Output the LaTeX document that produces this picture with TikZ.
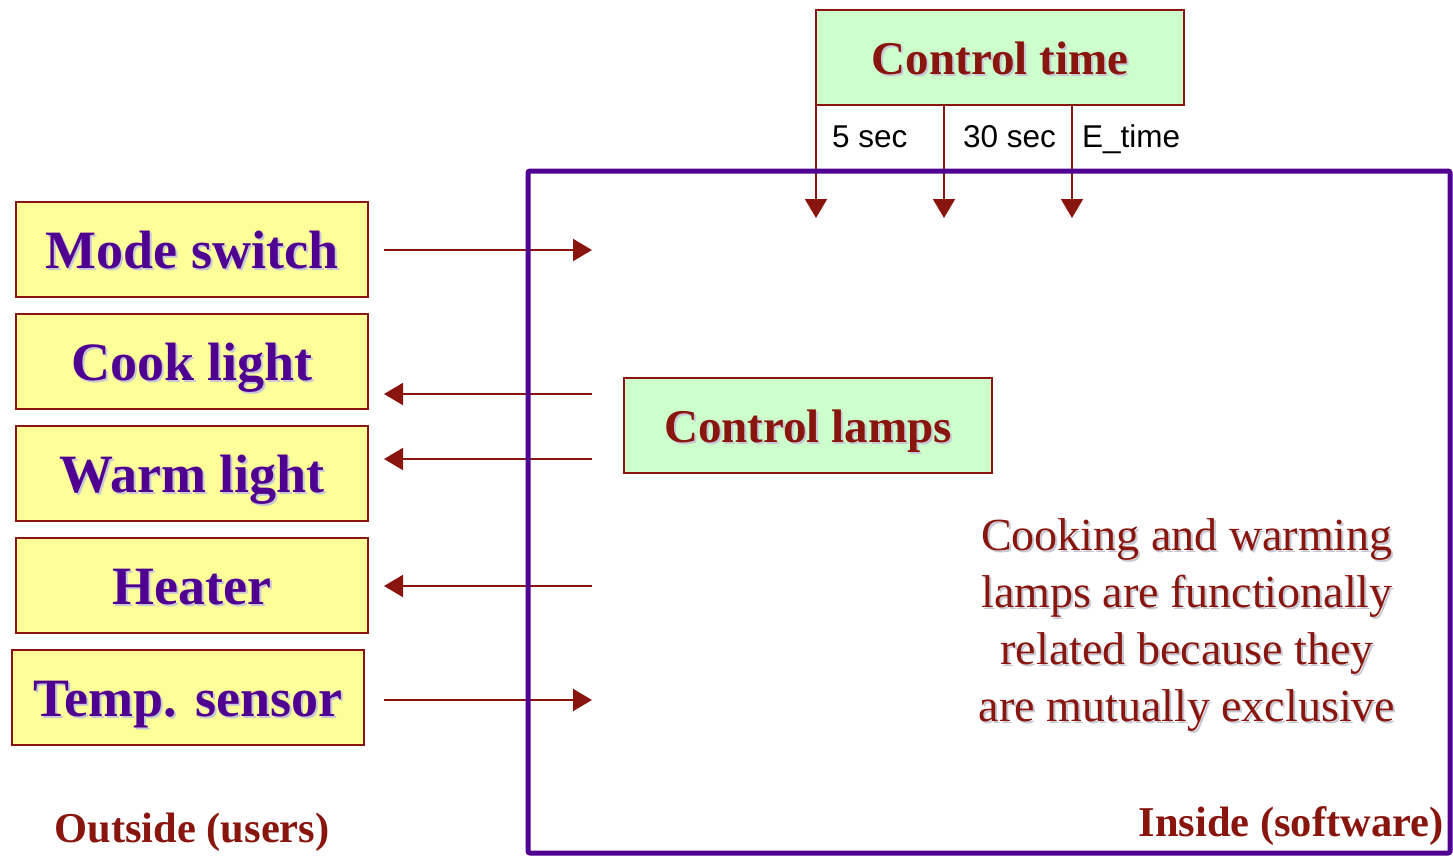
\documentclass[tikz,border=0pt]{standalone}
\usepackage{fontspec}
\setmainfont{Liberation Serif}
\newfontfamily\labelsans{Liberation Sans}
\usetikzlibrary{arrows.meta, positioning}
\definecolor{DarkRed}{RGB}{136,22,14}
\definecolor{DeepPurple}{RGB}{80,0,145}
\definecolor{PaleYellow}{RGB}{255,255,153}
\definecolor{PaleGreen}{RGB}{204,255,204}
\definecolor{ShadowGray}{RGB}{200,200,212}
\newcommand{\shd}[1]{\leavevmode\rlap{\kern2pt\raisebox{-2pt}{\textcolor{ShadowGray}{#1}}}#1}

\begin{document}
\begin{tikzpicture}[x=1pt, y=-1pt,
	ext/.style={draw=DarkRed,line width=1.5pt,fill=PaleYellow,minimum width=352pt,minimum height=95pt,
		inner sep=0pt,text height=38pt,text depth=0pt,text=DeepPurple,font=\fontsize{54}{60}\selectfont\bfseries},
	proc/.style={draw=DarkRed,line width=1.5pt,fill=PaleGreen,minimum width=368pt,minimum height=95pt,
		inner sep=0pt,text height=33pt,text depth=0pt,text=DarkRed,font=\fontsize{47}{54}\selectfont\bfseries},
	flow/.style={-{Triangle[length=19pt,width=22pt]},draw=DarkRed,line width=2pt},
	tlabel/.style={anchor=base west,inner sep=0pt,font=\labelsans\fontsize{31.5}{36}\selectfont},
	side/.style={anchor=base,inner sep=0pt,text=DarkRed,font=\fontsize{42.5}{48}\selectfont\bfseries}]
\useasboundingbox (0,0) rectangle (1453,857);
% outside devices
\foreach \n/\x/\y/\t in {mode/192/249.5/Mode switch,cook/192/361.5/Cook light,
	warm/192/473.5/Warm light,heat/192/585.5/Heater,temp/188/697.5/Temp. sensor}
	\node[ext] (\n) at (\x,\y) {\shd{\t}};
% software processes
\node[proc] (ctime) at (1000,57.5) {\shd{Control time}};
\node[proc] (clamp) at (808,425.5) {\shd{Control lamps}};
% arrow ends
\foreach \n/\y in {mode/250,cook/394,warm/459,heat/586,temp/700} {
	\coordinate (\n-o) at (384,\y);
	\coordinate (\n-i) at (592,\y);
}
\draw[flow] (mode-o) -- (mode-i);
\draw[flow] (cook-i) -- (cook-o);
\draw[flow] (warm-i) -- (warm-o);
\draw[flow] (heat-i) -- (heat-o);
\draw[flow] (temp-o) -- (temp-i);
% timer events
\foreach \n/\x in {1/816,2/944,3/1072}
	\coordinate (ev\n) at (\x,218);
\foreach \n in {1,2,3}
	\draw[flow] (ctime.south west -| ev\n) -- (ev\n);
\node[tlabel] (t5) at (832,147) {5 sec};
\node[tlabel] (t30) at (963,147) {30 sec};
\node[tlabel] (tE) at (1082,147) {E\_time};
% system boundary
\draw[DeepPurple,line width=5pt,rounded corners=2pt] (528,171) rectangle (1450,853);
% note
\node[text=DarkRed,align=center,inner sep=0pt,font=\fontsize{46}{57}\selectfont] (note) at (1187,626)
	{\shd{Cooking and warming}\\ \shd{lamps are functionally}\\ \shd{related because they}\\ \shd{are mutually exclusive}};
\node[side] (outl) at (192,842) {Outside (users)};
\node[side] (inl) at (1291,836) {Inside (software)};
\end{tikzpicture}
\end{document}
